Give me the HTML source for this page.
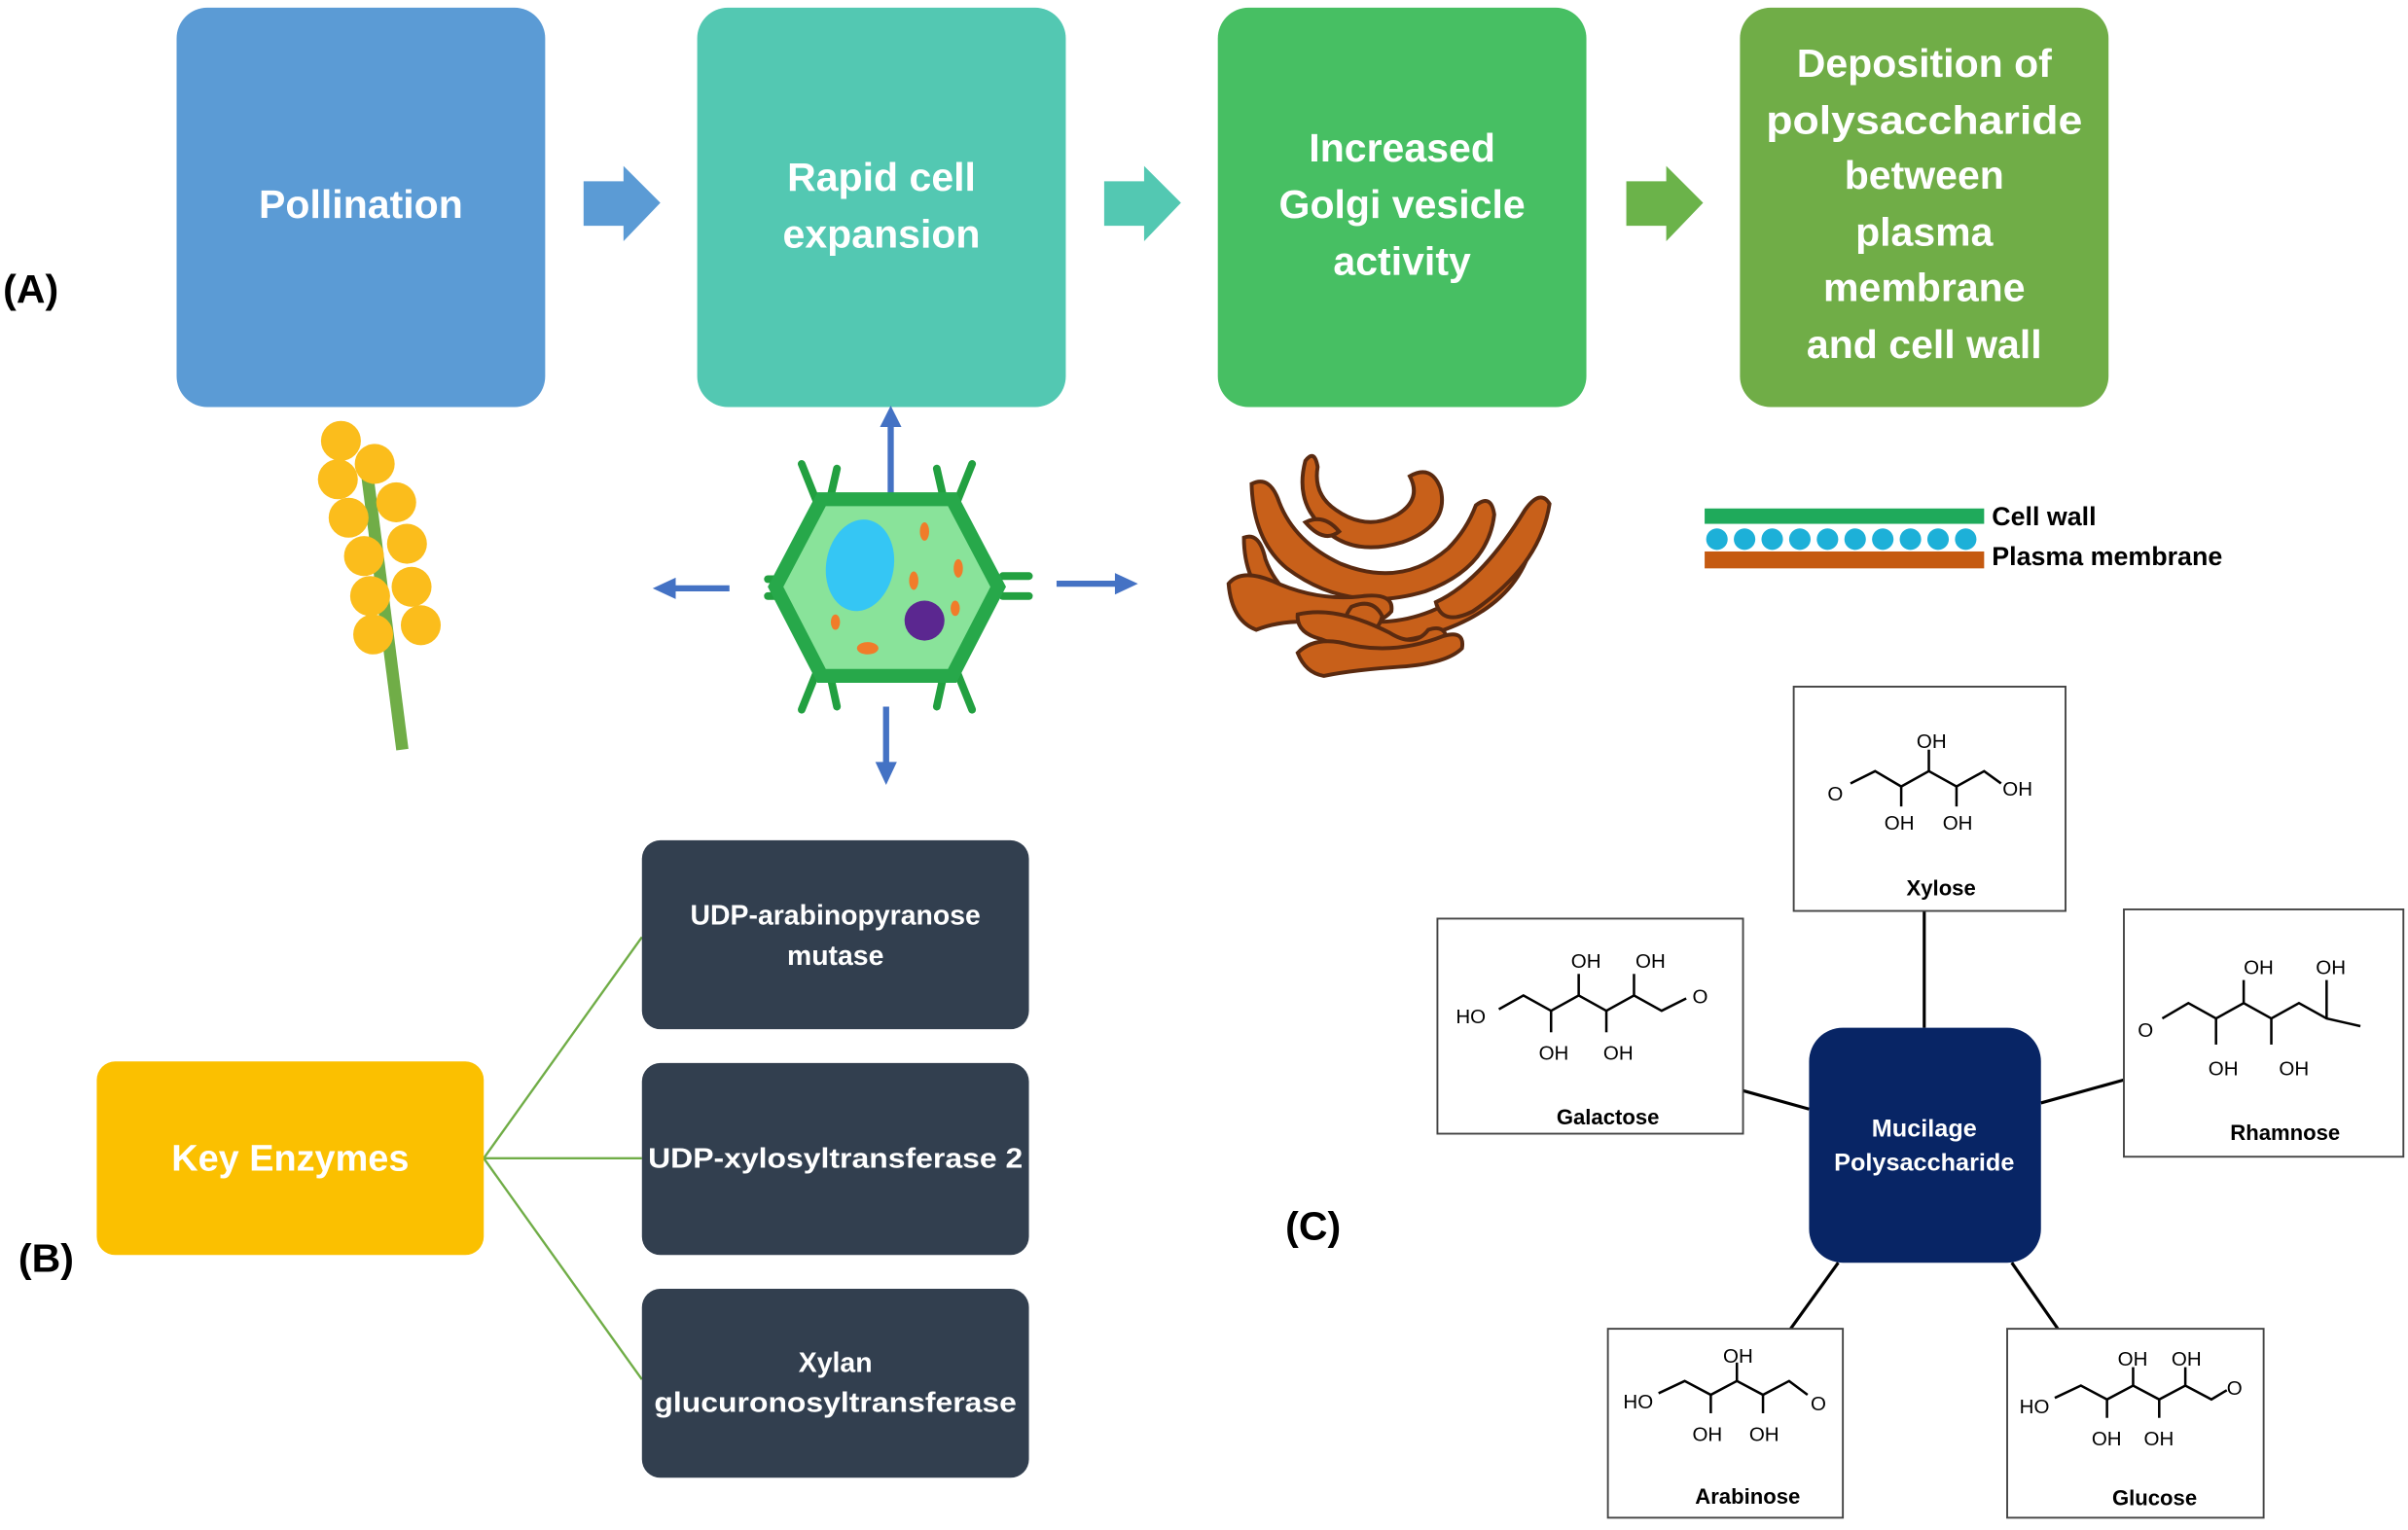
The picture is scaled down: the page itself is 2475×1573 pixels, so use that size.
<!DOCTYPE html>
<html><head><meta charset="utf-8"><style>
html,body{margin:0;padding:0;background:#fff;width:2475px;height:1573px;overflow:hidden}
svg{display:block}
.w{fill:#fff;font-family:"Liberation Sans",sans-serif;font-weight:bold;text-anchor:middle}
.k{fill:#000;font-family:"Liberation Sans",sans-serif}
.c{fill:#000;font-family:"Liberation Sans",sans-serif;font-size:13px}
.ch{fill:none;stroke:#000;stroke-width:1.6}
</style></head><body>
<svg width="2475" height="1573" viewBox="0 0 1568 996" preserveAspectRatio="none" xmlns="http://www.w3.org/2000/svg">
<!-- Top boxes -->
<rect x="115" y="5" width="240" height="260" rx="20" fill="#5b9bd5"/>
<rect x="454" y="5" width="240" height="260" rx="20" fill="#53c8b2"/>
<rect x="793" y="5" width="240" height="260" rx="20" fill="#47bf63"/>
<rect x="1133" y="5" width="240" height="260" rx="20" fill="#70ad47"/>
<g class="w" font-size="26">
<text x="235" y="142">Pollination</text>
<text x="574" y="124">Rapid cell</text><text x="574" y="161">expansion</text>
<text x="913" y="105">Increased</text><text x="913" y="142">Golgi vesicle</text><text x="913" y="179">activity</text>
<text x="1253" y="50">Deposition of</text><text x="1253" y="87" textLength="206" lengthAdjust="spacingAndGlyphs">polysaccharide</text><text x="1253" y="123">between</text><text x="1253" y="160">plasma</text><text x="1253" y="196">membrane</text><text x="1253" y="233">and cell wall</text>
</g>
<!-- block arrows -->
<polygon points="380,118 406,118 406,108 430,132 406,157 406,147 380,147" fill="#5b9bd5"/>
<polygon points="719,118 745,118 745,108 769,132 745,157 745,147 719,147" fill="#53c8b2"/>
<polygon points="1059,118 1085,118 1085,108 1109,132 1085,157 1085,147 1059,147" fill="#6bb34a"/>
<text class="k" x="2" y="197" font-size="26" font-weight="bold">(A)</text>
<!-- pollen -->
<line x1="238" y1="300" x2="262" y2="488" stroke="#70ad47" stroke-width="8"/>
<g fill="#fbbd1c">
<circle cx="222" cy="287" r="13"/><circle cx="244" cy="302" r="13"/><circle cx="220" cy="312" r="13"/><circle cx="258" cy="327" r="13"/><circle cx="227" cy="337" r="13"/><circle cx="265" cy="354" r="13"/><circle cx="237" cy="362" r="13"/><circle cx="268" cy="382" r="13"/><circle cx="241" cy="388" r="13"/><circle cx="274" cy="407" r="13"/><circle cx="243" cy="413" r="13"/>
</g>
<!-- cell arrows -->
<g stroke="#4472c4" stroke-width="4" fill="#4472c4">
<line x1="580" y1="345" x2="580" y2="275"/><polygon points="573,278 587,278 580,264" stroke="none"/>
<line x1="475" y1="383" x2="438" y2="383"/><polygon points="440,376 440,390 425,383" stroke="none"/>
<line x1="688" y1="380" x2="728" y2="380"/><polygon points="726,373 726,387 741,380" stroke="none"/>
<line x1="577" y1="460" x2="577" y2="498"/><polygon points="570,496 584,496 577,511" stroke="none"/>
</g>
<!-- cell -->
<g stroke="#22a040" stroke-width="5" stroke-linecap="round">
<line x1="532" y1="327" x2="522" y2="302"/><line x1="540" y1="327" x2="545" y2="305"/>
<line x1="615" y1="327" x2="610" y2="305"/><line x1="623" y1="327" x2="633" y2="302"/>
<line x1="532" y1="437" x2="522" y2="462"/><line x1="540" y1="437" x2="545" y2="460"/>
<line x1="615" y1="437" x2="610" y2="460"/><line x1="623" y1="437" x2="633" y2="462"/>
<line x1="500" y1="377" x2="515" y2="377"/><line x1="500" y1="388" x2="515" y2="388"/>
<line x1="653" y1="375" x2="670" y2="375"/><line x1="653" y1="388" x2="670" y2="388"/>
</g>
<polygon points="535,325 620,325 650,382 620,440 535,440 505,382" fill="#89e39a" stroke="#27a84a" stroke-width="9"/>
<ellipse cx="560" cy="368" rx="22" ry="30" fill="#35c6f4" transform="rotate(10 560 368)"/>
<circle cx="602" cy="404" r="13" fill="#5b2790"/>
<g fill="#f07c2a"><ellipse cx="602" cy="346" rx="3" ry="6"/><ellipse cx="624" cy="370" rx="3" ry="6"/><ellipse cx="595" cy="378" rx="3" ry="6"/><ellipse cx="544" cy="405" rx="3" ry="5"/><ellipse cx="565" cy="422" rx="7" ry="4"/><ellipse cx="622" cy="396" rx="3" ry="5"/></g>
<!-- golgi -->
<g fill="#c8601a" stroke="#5a2a10" stroke-width="2.5">
<path d="M850 300 q6 -8 8 4 q-3 18 12 28 q20 14 40 3 q16 -10 8 -25 q14 -8 20 8 q6 24 -25 35 q-40 12 -60 -20 q-8 -14 -3 -33z"/>
<path d="M815 315 q12 -6 18 12 q10 26 40 40 q40 16 70 -10 q12 -12 18 -28 q10 -8 12 6 q-4 35 -45 50 q-50 15 -90 -15 q-22 -18 -23 -55z"/>
<path d="M810 350 q10 -4 14 14 q10 28 45 38 q55 12 95 -25 q15 -18 24 -35 q12 -6 10 10 q-10 45 -70 62 q-55 14 -100 -20 q-18 -16 -18 -44z"/>
<path d="M850 340 q12 -6 22 6 q-10 8 -22 -6z"/>
<path d="M800 380 q8 -10 28 -2 q30 14 60 10 q20 -2 18 10 q-10 12 -40 8 q-28 -4 -48 4 q-16 -6 -18 -30z"/>
<path d="M935 392 q30 -14 58 -60 q10 -14 16 -4 q-6 40 -50 70 q-20 10 -24 -6z"/>
<path d="M880 395 q14 -6 20 6 q-2 12 -20 14 q-8 -10 0 -20z"/>
<path d="M845 400 q25 -6 60 12 q16 10 25 -2 q12 -4 12 8 q-5 14 -30 12 q-28 -4 -52 -14 q-16 -4 -15 -16z"/>
<path d="M845 425 q12 -12 35 -5 q30 6 60 -6 q14 -4 12 8 q-10 10 -40 12 q-30 2 -50 6 q-12 -2 -17 -15z"/>
</g>
<!-- membrane -->
<rect x="1110" y="331" width="182" height="10" fill="#1faa5b"/>
<g fill="#1db0d8"><circle cx="1118" cy="351" r="7"/><circle cx="1136" cy="351" r="7"/><circle cx="1154" cy="351" r="7"/><circle cx="1172" cy="351" r="7"/><circle cx="1190" cy="351" r="7"/><circle cx="1208" cy="351" r="7"/><circle cx="1226" cy="351" r="7"/><circle cx="1244" cy="351" r="7"/><circle cx="1262" cy="351" r="7"/><circle cx="1280" cy="351" r="7"/></g>
<rect x="1110" y="359" width="182" height="11" fill="#c55a11"/>
<text class="k" x="1297" y="342" font-size="17" font-weight="bold">Cell wall</text>
<text class="k" x="1297" y="368" font-size="17" font-weight="bold">Plasma membrane</text>
<!-- B -->
<text class="k" x="12" y="828" font-size="26" font-weight="bold">(B)</text>
<g stroke="#70ad47" stroke-width="1.5"><line x1="315" y1="754" x2="418" y2="610"/><line x1="315" y1="754" x2="418" y2="754"/><line x1="315" y1="754" x2="418" y2="898"/></g>
<rect x="63" y="691" width="252" height="126" rx="12" fill="#fbc000"/>
<text class="w" x="189" y="762" font-size="24">Key Enzymes</text>
<rect x="418" y="547" width="252" height="123" rx="12" fill="#323f4f"/>
<rect x="418" y="692" width="252" height="125" rx="12" fill="#323f4f"/>
<rect x="418" y="839" width="252" height="123" rx="12" fill="#323f4f"/>
<g class="w" font-size="18">
<text x="544" y="602">UDP-arabinopyranose</text><text x="544" y="628">mutase</text>
<text x="544" y="760" textLength="244" lengthAdjust="spacingAndGlyphs">UDP-xylosyltransferase 2</text>
<text x="544" y="893">Xylan</text><text x="544" y="919" textLength="236" lengthAdjust="spacingAndGlyphs">glucuronosyltransferase</text>
</g>
<!-- C -->
<text class="k" x="837" y="807" font-size="26" font-weight="bold">(C)</text>
<g stroke="#000" stroke-width="2"><line x1="1253" y1="593" x2="1253" y2="669"/><line x1="1135" y1="710" x2="1178" y2="722"/><line x1="1383" y1="703" x2="1329" y2="718"/><line x1="1166" y1="865" x2="1197" y2="822"/><line x1="1340" y1="865" x2="1310" y2="822"/></g>
<g fill="#fff" stroke="#444" stroke-width="1.2">
<rect x="1168" y="447" width="177" height="146"/><rect x="936" y="598" width="199" height="140"/><rect x="1383" y="592" width="182" height="161"/><rect x="1047" y="865" width="153" height="123"/><rect x="1307" y="865" width="167" height="123"/>
</g>
<rect x="1178" y="669" width="151" height="153" rx="22" fill="#082565"/>
<text class="w" x="1253" y="740" font-size="16">Mucilage</text><text class="w" x="1253" y="762" font-size="16">Polysaccharide</text>
<!-- structures -->
<polyline class="ch" points="1205,510 1221,502 1238,512 1256,502 1274,512 1292,502 1303,510"/>
<line class="ch" x1="1256" y1="502" x2="1256" y2="488"/><line class="ch" x1="1238" y1="512" x2="1238" y2="525"/><line class="ch" x1="1274" y1="512" x2="1274" y2="525"/>
<text class="c" x="1190" y="521">O</text><text class="c" x="1248" y="487">OH</text><text class="c" x="1304" y="518">OH</text><text class="c" x="1227" y="540">OH</text><text class="c" x="1265" y="540">OH</text>
<polyline class="ch" points="976,657 992,648 1010,658 1028,648 1046,658 1064,648 1082,658 1098,650"/>
<line class="ch" x1="1028" y1="648" x2="1028" y2="634"/><line class="ch" x1="1064" y1="648" x2="1064" y2="634"/><line class="ch" x1="1010" y1="658" x2="1010" y2="672"/><line class="ch" x1="1046" y1="658" x2="1046" y2="672"/>
<text class="c" x="948" y="666">HO</text><text class="c" x="1102" y="653">O</text><text class="c" x="1023" y="630">OH</text><text class="c" x="1065" y="630">OH</text><text class="c" x="1002" y="690">OH</text><text class="c" x="1044" y="690">OH</text>
<polyline class="ch" points="1408,663 1425,653 1443,663 1461,653 1479,663 1497,653 1515,663 1537,668"/>
<line class="ch" x1="1461" y1="653" x2="1461" y2="638"/><line class="ch" x1="1515" y1="663" x2="1515" y2="638"/><line class="ch" x1="1443" y1="663" x2="1443" y2="680"/><line class="ch" x1="1479" y1="663" x2="1479" y2="680"/>
<text class="c" x="1392" y="675" font-size="15">O</text><text class="c" x="1461" y="634" font-size="15">OH</text><text class="c" x="1508" y="634" font-size="15">OH</text><text class="c" x="1438" y="700" font-size="15">OH</text><text class="c" x="1484" y="700" font-size="15">OH</text>
<polyline class="ch" points="1080,907 1097,899 1114,908 1131,899 1148,908 1165,899 1177,908"/>
<line class="ch" x1="1131" y1="899" x2="1131" y2="887"/><line class="ch" x1="1114" y1="908" x2="1114" y2="920"/><line class="ch" x1="1148" y1="908" x2="1148" y2="920"/>
<text class="c" x="1057" y="917">HO</text><text class="c" x="1179" y="918">O</text><text class="c" x="1122" y="887">OH</text><text class="c" x="1102" y="938">OH</text><text class="c" x="1139" y="938">OH</text>
<polyline class="ch" points="1338,910 1355,902 1372,911 1389,902 1406,911 1423,902 1440,911 1450,905"/>
<line class="ch" x1="1389" y1="902" x2="1389" y2="890"/><line class="ch" x1="1423" y1="902" x2="1423" y2="890"/><line class="ch" x1="1372" y1="911" x2="1372" y2="923"/><line class="ch" x1="1406" y1="911" x2="1406" y2="923"/>
<text class="c" x="1315" y="920">HO</text><text class="c" x="1450" y="908">O</text><text class="c" x="1379" y="889">OH</text><text class="c" x="1414" y="889">OH</text><text class="c" x="1362" y="941">OH</text><text class="c" x="1396" y="941">OH</text>
<g class="k" font-size="14" font-weight="bold" text-anchor="middle">
<text x="1264" y="583">Xylose</text><text x="1047" y="732">Galactose</text><text x="1488" y="742">Rhamnose</text><text x="1138" y="979">Arabinose</text><text x="1403" y="980">Glucose</text>
</g>
</svg>
</body></html>
